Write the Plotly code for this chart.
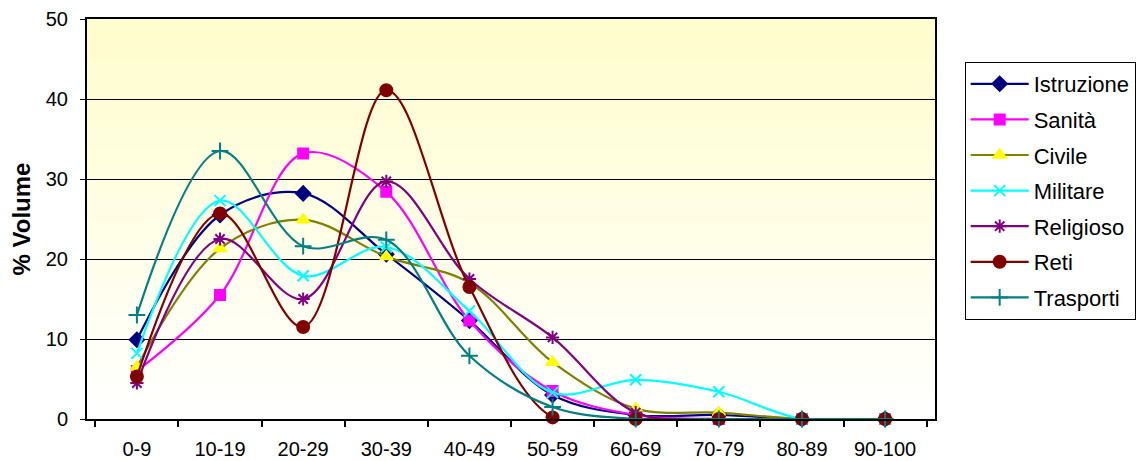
import plotly.graph_objects as go

categories = ["0-9", "10-19", "20-29", "30-39", "40-49", "50-59", "60-69", "70-79", "80-89", "90-100"]

istruzione = [9.9, 25.5, 28.2, 20.6, 12.3, 3.0, 0.5, 0.5, 0.0, 0.0]
sanita     = [6.0, 15.5, 33.2, 28.4, 12.3, 3.5, 0.5, 0.0, 0.0, 0.0]
civile     = [6.5, 21.3, 24.9, 20.3, 17.0, 7.1, 1.3, 0.8, 0.0, 0.0]
militare   = [8.2, 27.3, 17.9, 21.5, 13.5, 3.3, 4.9, 3.4, 0.0, 0.0]
religioso  = [4.5, 22.5, 15.0, 29.7, 17.5, 10.2, 0.8, 0.0, 0.0, 0.0]
reti       = [5.3, 25.7, 11.5, 41.1, 16.5, 0.2, 0.0, 0.0, 0.0, 0.0]
trasporti  = [13.0, 33.5, 21.6, 22.4, 7.9, 1.5, 0.0, 0.0, 0.0, 0.0]

series = [
    ("Istruzione", istruzione, "#000080", "#000080", "diamond", 11),
    ("Sanità", sanita, "#FF00FF", "#FF00FF", "square", 10),
    ("Civile", civile, "#808000", "#FFFF00", "triangle-up", 11),
    ("Militare", militare, "#00FFFF", "#00FFFF", "x-thin-open", 11),
    ("Religioso", religioso, "#800080", "#800080", "asterisk-open", 11),
    ("Reti", reti, "#800000", "#800000", "circle", 12),
    ("Trasporti", trasporti, "#008080", "#008080", "cross-thin-open", 12),
]

fig = go.Figure()
for i, (name, vals, lc, mc, sym, size) in enumerate(series):
    fig.add_trace(go.Scatter(
        x=categories, y=vals, name=name, mode="lines+markers",
        line=dict(color=lc, width=2.2, shape="spline", smoothing=1.0),
        marker=dict(symbol=sym, size=size, color=mc,
                    line=dict(color=mc, width=2)),
        legendgroup=f"g{i}", cliponaxis=False,
    ))

# gradient background (pale yellow at top to white at bottom)
n = 40
shapes = []
top = (255, 253, 204)
bot = (255, 255, 255)
for k in range(n):
    t = (k + 0.5) / n
    c = tuple(round(bot[j] + (top[j] - bot[j]) * t) for j in range(3))
    shapes.append(dict(type="rect", xref="x domain", yref="y domain",
                       x0=0, x1=1, y0=k / n, y1=(k + 1) / n,
                       fillcolor="rgb(%d,%d,%d)" % c, line=dict(width=0),
                       layer="below"))

fig.update_layout(
    width=1139, height=453,
    margin=dict(l=79, r=210, t=11, b=42),
    paper_bgcolor="white", plot_bgcolor="white",
    font=dict(family="Liberation Sans, Arial", size=20, color="black"),
    shapes=shapes,
    showlegend=True,
    legend=dict(x=1.035, xanchor="left", y=0.8925, yanchor="top",
                bordercolor="black", borderwidth=1, bgcolor="white",
                font=dict(size=22), tracegroupgap=4, itemwidth=58),
)
fig.update_xaxes(
    type="category", showline=True, linecolor="black", linewidth=2, mirror=True,
    ticks="outside", ticklen=6, tickwidth=2, tickcolor="black",
    tickson="boundaries", showgrid=False, ticklabelstandoff=11,
    tickfont=dict(size=20), automargin=False,
)
fig.update_yaxes(
    range=[0, 50], dtick=10, showline=True, linecolor="black", linewidth=2, mirror=True,
    ticks="outside", ticklen=5, tickwidth=1, tickcolor="black",
    showgrid=True, gridcolor="black", gridwidth=1, zeroline=False,
    ticklabelstandoff=8, tickfont=dict(size=20), automargin=False,
    title=dict(text="<b>% Volume</b>", font=dict(size=24), standoff=10),
)

fig.write_html("out.html")
